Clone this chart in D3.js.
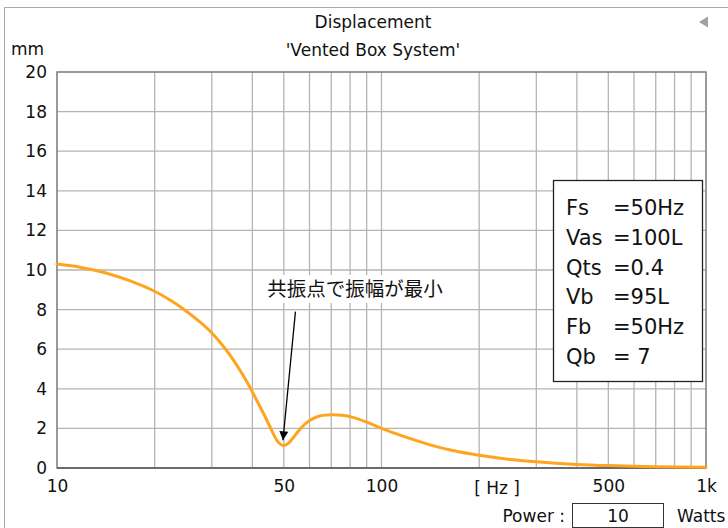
<!DOCTYPE html>
<html><head><meta charset="utf-8">
<script src="https://cdn.jsdelivr.net/npm/d3@7"></script>
<style>
html,body{margin:0;padding:0;background:#fff;}
svg{display:block;font-family:"DejaVu Sans",sans-serif;}
</style></head>
<body>
<svg id="chart" width="728" height="528"></svg>
<script>
// ---- data ----
const freqHz = [10,11.86,14.06,16.79,19.9,22.3,24.8,27.2,29.62,31.79,34.13,36.13,37.97,39.62,41.64,43.76,45.34,46.65,47.65,48.68,49.72,50.79,51.88,52.99,54.13,55.3,56.89,58.82,61.07,63.73,66.97,70.89,75.56,81.1,90.87,100,117,141,166,200,250,300,400,500,700,1000];
const dispMm = [10.30,10.13,9.86,9.45,8.94,8.48,7.97,7.46,6.92,6.35,5.70,5.09,4.52,3.97,3.29,2.60,2.07,1.65,1.38,1.22,1.14,1.17,1.28,1.45,1.64,1.84,2.07,2.29,2.47,2.60,2.67,2.69,2.66,2.57,2.29,2.0,1.60,1.17,0.88,0.64,0.43,0.31,0.18,0.12,0.065,0.035];
const xGridHz = [20,30,40,50,60,70,80,90,100,200,300,400,500,600,700,800,900];
const xTickHz = [10,50,100,500,1000];
const xTickLabels = ["10","50","100","500","1k"];
const xUnitLabel = "[ Hz ]";
const xUnitHz = 227;
const yTicks = [0,2,4,6,8,10,12,14,16,18,20];
const titleText = "Displacement";
const subtitleText = "'Vented Box System'";
const yUnitText = "mm";
const paramLabels = ["Fs","Vas","Qts","Vb","Fb","Qb"];
const paramValues = ["=50Hz","=100L","=0.4","=95L","=50Hz","= 7"];
const noteText = "共振点で振幅が最小";
const noteFromHz = 54.3, noteFromMm = 7.9;   // arrow tail (data space)
const noteToHz = 49.7, noteToMm = 1.4;       // arrow tip (data space)
const powerLabel = "Power :", powerValue = "10", powerUnit = "Watts";

// ---- layout ----
const svg = d3.select("#chart");
const L = 57, R = 706, T = 72, B = 468;
const x = d3.scaleLog().domain([10,1000]).range([L,R]);
const y = d3.scaleLinear().domain([0,20]).range([B,T]);

// outer panel frame
svg.append("path").attr("d","M4.5,540 V7.5 H740").attr("fill","none").attr("stroke","#a8a8a8").attr("stroke-width",1);
// little triangle
svg.append("path").attr("d","M699,22 L708,16.5 L708,27.5 Z").attr("fill","#a0a0a0");

// titles
svg.append("text").attr("x",373).attr("y",28).attr("text-anchor","middle").attr("font-size",17).attr("fill","#111").text(titleText);
svg.append("text").attr("x",373).attr("y",56).attr("text-anchor","middle").attr("font-size",17).attr("fill","#111").text(subtitleText);
svg.append("text").attr("x",11).attr("y",55).attr("font-size",17).attr("fill","#111").text(yUnitText);

// grid
const g = svg.append("g");
g.selectAll(".vg").data(xGridHz).enter().append("line")
  .attr("x1",d=>x(d)).attr("x2",d=>x(d)).attr("y1",T).attr("y2",B)
  .attr("stroke","#b4b4b4").attr("stroke-width",1.3);
g.selectAll(".hg").data(yTicks.slice(1,-1)).enter().append("line")
  .attr("x1",L).attr("x2",R).attr("y1",d=>y(d)).attr("y2",d=>y(d))
  .attr("stroke","#b4b4b4").attr("stroke-width",1.3);
// plot border
g.append("rect").attr("x",L).attr("y",T).attr("width",R-L).attr("height",B-T)
  .attr("fill","none").attr("stroke","#7a7a7a").attr("stroke-width",1.5);
g.append("line").attr("x1",L).attr("x2",R).attr("y1",B).attr("y2",B).attr("stroke","#6a6a6a").attr("stroke-width",2);

// axes labels
const yAxis = svg.append("g").attr("transform",`translate(${L},0)`)
  .call(d3.axisLeft(y).tickValues(yTicks).tickFormat(d3.format("d")).tickSize(0).tickPadding(10));
yAxis.select(".domain").remove();
yAxis.selectAll("text").attr("font-size",17).attr("font-family","DejaVu Sans").attr("fill","#111");

const xAxis = svg.append("g").attr("transform",`translate(0,${B})`)
  .call(d3.axisBottom(x).tickValues(xTickHz).tickFormat((d,i)=>xTickLabels[i]).tickSize(0).tickPadding(12));
xAxis.select(".domain").remove();
xAxis.selectAll("text").attr("font-size",17).attr("font-family","DejaVu Sans").attr("fill","#111");
svg.append("text").attr("x",x(xUnitHz)).attr("y",B+26).attr("text-anchor","middle")
  .attr("font-size",17).attr("fill","#111").text(xUnitLabel);

// curve
const line = d3.line().x(d=>x(d[0])).y(d=>y(d[1])).curve(d3.curveCatmullRom.alpha(0.5));
svg.append("path").datum(freqHz.map((f,i)=>[f,dispMm[i]]))
  .attr("d",line).attr("fill","none").attr("stroke","#ffa41e").attr("stroke-width",3)
  .attr("stroke-linejoin","round").attr("stroke-linecap","round");

// annotation
const nb = svg.append("g");
nb.append("rect").attr("x",259).attr("y",275).attr("width",192).attr("height",28).attr("fill","#fff");
nb.append("text").attr("x",355).attr("y",296).attr("text-anchor","middle")
  .attr("font-family","'Noto Sans CJK JP'").attr("font-size",19.5).attr("fill","#111").text(noteText);
svg.append("defs").append("marker").attr("id","ah").attr("viewBox","0 0 10 10")
  .attr("refX",10).attr("refY",5).attr("markerWidth",15).attr("markerHeight",9)
  .attr("markerUnits","userSpaceOnUse").attr("orient","auto")
  .append("path").attr("d","M0,0 L10,5 L0,10 Z").attr("fill","#000");
svg.append("line").attr("x1",x(noteFromHz)).attr("y1",y(noteFromMm))
  .attr("x2",x(noteToHz)).attr("y2",y(noteToMm))
  .attr("stroke","#000").attr("stroke-width",1.3).attr("marker-end","url(#ah)");

// parameter box
const pb = svg.append("g");
pb.append("rect").attr("x",553.5).attr("y",180.5).attr("width",149).attr("height",201)
  .attr("fill","#fff").attr("stroke","#222").attr("stroke-width",1.3);
paramLabels.forEach((lab,i)=>{
  const by = 215 + i*29.8;
  pb.append("text").attr("x",566).attr("y",by).attr("font-size",21).attr("fill","#111").text(lab);
  pb.append("text").attr("x",613).attr("y",by).attr("font-size",21).attr("fill","#111").text(paramValues[i]);
});

// power box
svg.append("text").attr("x",565).attr("y",522).attr("text-anchor","end").attr("font-size",17).attr("fill","#111").text(powerLabel);
svg.append("rect").attr("x",572.5).attr("y",503.5).attr("width",91).attr("height",24)
  .attr("fill","#fff").attr("stroke","#333").attr("stroke-width",1);
svg.append("text").attr("x",618).attr("y",522).attr("text-anchor","middle").attr("font-size",17).attr("fill","#111").text(powerValue);
svg.append("text").attr("x",677).attr("y",522).attr("font-size",17).attr("fill","#111").text(powerUnit);
</script>
</body></html>
